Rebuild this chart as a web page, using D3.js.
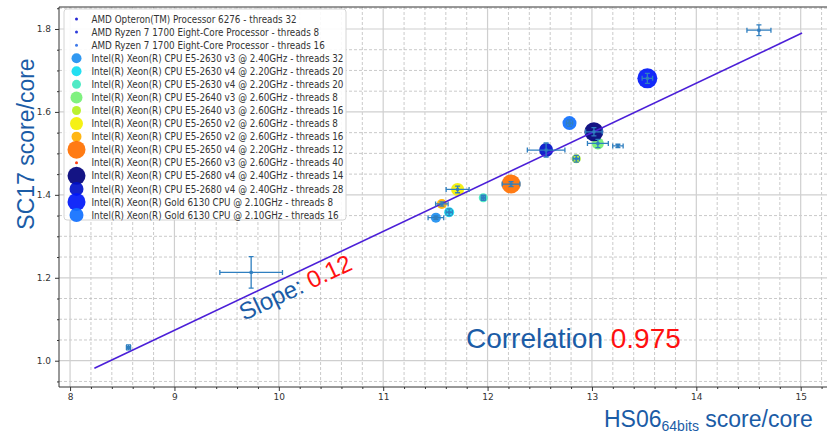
<!DOCTYPE html>
<html>
<head>
<meta charset="utf-8">
<script src="https://cdn.jsdelivr.net/npm/d3@7"></script>
<style>
  body { margin: 0; background: #fff; }
  svg { display: block; }
</style>
</head>
<body>
<svg id="chart" width="827" height="435"></svg>
<script>
// ---- data ----
const processors = [
  'AMD Opteron(TM) Processor 6276',
  'AMD Ryzen 7 1700 Eight-Core Processor',
  'AMD Ryzen 7 1700 Eight-Core Processor',
  'Intel(R) Xeon(R) CPU E5-2630 v3 @ 2.40GHz',
  'Intel(R) Xeon(R) CPU E5-2630 v4 @ 2.20GHz',
  'Intel(R) Xeon(R) CPU E5-2630 v4 @ 2.20GHz',
  'Intel(R) Xeon(R) CPU E5-2640 v3 @ 2.60GHz',
  'Intel(R) Xeon(R) CPU E5-2640 v3 @ 2.60GHz',
  'Intel(R) Xeon(R) CPU E5-2650 v2 @ 2.60GHz',
  'Intel(R) Xeon(R) CPU E5-2650 v2 @ 2.60GHz',
  'Intel(R) Xeon(R) CPU E5-2650 v4 @ 2.20GHz',
  'Intel(R) Xeon(R) CPU E5-2660 v3 @ 2.60GHz',
  'Intel(R) Xeon(R) CPU E5-2680 v4 @ 2.40GHz',
  'Intel(R) Xeon(R) CPU E5-2680 v4 @ 2.40GHz',
  'Intel(R) Xeon(R) Gold 6130 CPU @ 2.10GHz',
  'Intel(R) Xeon(R) Gold 6130 CPU @ 2.10GHz'
];
const threads  = [32, 8, 16, 32, 20, 20, 8, 16, 8, 16, 12, 40, 14, 28, 8, 16];
const hs06     = [8.56, 14.60, 9.735, 11.505, 11.632, 11.959, 13.057, 12.85, 11.713, 11.562, 12.225, 13.249, 13.019, 12.561, 13.531, 12.785];
const sc17     = [1.032, 1.797, 1.213, 1.345, 1.358, 1.393, 1.524, 1.487, 1.413, 1.378, 1.426, 1.518, 1.552, 1.508, 1.681, 1.573];
const hs06Err  = [0.02, 0.115, 0.30, 0.075, 0.03, 0.02, 0.10, 0.03, 0.11, 0.06, 0.085, 0.05, 0.08, 0.18, 0.05, 0.03];
const sc17Err  = [0.006, 0.013, 0.038, 0.004, 0.008, 0.006, 0.01, 0.008, 0.008, 0.005, 0.006, 0.004, 0.01, 0.017, 0.012, 0.008];

const fitSlope = 0.1192, fitIntercept = 0.0006;
const fitRange = [8.233, 15.013];
const slopeLabel = '0.12', correlation = '0.975';

const xTicks = [8, 9, 10, 11, 12, 13, 14, 15];
const yTicks = [1.0, 1.2, 1.4, 1.6, 1.8];

// marker styles (one per processor)
const colors = ['#1515d0', '#1a2ad8', '#2f6fe8', '#1e8ff0', '#10dcf0', '#40e8c0', '#74f074', '#b4f020',
                '#f4f000', '#ffb000', '#ff7000', '#ff3000', '#00007a', '#0010c8', '#0018f8', '#1070ff'];
const markerR = [1.5, 1.5, 1.5, 5, 5, 4.5, 6, 4.5, 6.5, 5, 9.5, 1.5, 9.5, 7, 10, 7];

const rows = processors.map((p, i) => ({
  name: p, threads: threads[i], x: hs06[i], y: sc17[i],
  ex: hs06Err[i], ey: sc17Err[i], color: colors[i], r: markerR[i]
}));

// ---- frame ----
const plot = {left: 59, top: 7, right: 832, bottom: 387};
const svg = d3.select('#chart');

const x = d3.scaleLinear().domain([7.894, 15.3]).range([plot.left, plot.right]);
const y = d3.scaleLinear().domain([0.9366, 1.853]).range([plot.bottom, plot.top]);

const xMinor = d3.range(7.8, 15.4, 0.2).map(v => +v.toFixed(2)).filter(v => v > 7.894 && !xTicks.includes(v));
const yMinor = d3.range(0.95, 1.86, 0.05).map(v => +v.toFixed(2)).filter(v => !yTicks.some(t => Math.abs(t - v) < 1e-6));

const grid = svg.append('g');
grid.selectAll('line.xmin').data(xMinor).join('line')
    .attr('x1', d => x(d)).attr('x2', d => x(d))
    .attr('y1', plot.top).attr('y2', plot.bottom)
    .attr('stroke', '#bdbdbd').attr('stroke-dasharray', '3,2').attr('stroke-width', 0.8);
grid.selectAll('line.ymin').data(yMinor).join('line')
    .attr('y1', d => y(d)).attr('y2', d => y(d))
    .attr('x1', plot.left).attr('x2', plot.right)
    .attr('stroke', '#bdbdbd').attr('stroke-dasharray', '3,2').attr('stroke-width', 0.8);
grid.selectAll('line.xmaj').data(xTicks).join('line')
    .attr('x1', d => x(d)).attr('x2', d => x(d))
    .attr('y1', plot.top).attr('y2', plot.bottom)
    .attr('stroke', '#cfcfcf').attr('stroke-width', 1.2);
grid.selectAll('line.ymaj').data(yTicks).join('line')
    .attr('y1', d => y(d)).attr('y2', d => y(d))
    .attr('x1', plot.left).attr('x2', plot.right)
    .attr('stroke', '#cfcfcf').attr('stroke-width', 1.2);

// axes
const styleAxis = g => {
  g.select('.domain').remove();
  g.selectAll('line').attr('stroke', '#333');
  g.selectAll('text').attr('fill', '#333').attr('font-family', 'DejaVu Sans').attr('font-size', 9);
};
svg.append('g').attr('transform', `translate(0,${plot.bottom})`)
   .call(d3.axisBottom(x).tickValues(xMinor).tickSize(2).tickFormat(''))
   .call(styleAxis);
svg.append('g').attr('transform', `translate(0,${plot.bottom})`)
   .call(d3.axisBottom(x).tickValues(xTicks).tickSize(4).tickPadding(3).tickFormat(d3.format('d')))
   .call(styleAxis);
svg.append('g').attr('transform', `translate(${plot.left},0)`)
   .call(d3.axisLeft(y).tickValues(yMinor).tickSize(2).tickFormat(''))
   .call(styleAxis);
svg.append('g').attr('transform', `translate(${plot.left},0)`)
   .call(d3.axisLeft(y).tickValues(yTicks).tickSize(4).tickPadding(4).tickFormat(d3.format('.1f')))
   .call(styleAxis);

svg.append('path')
   .attr('d', `M${plot.right},${plot.top}H${plot.left}V${plot.bottom}H${plot.right}`)
   .attr('fill', 'none').attr('stroke', '#333').attr('stroke-width', 1);

// ---- markers ----
svg.append('g').selectAll('circle').data(rows).join('circle')
   .attr('cx', d => x(d.x)).attr('cy', d => y(d.y)).attr('r', d => d.r)
   .attr('fill', d => d.color).attr('fill-opacity', 0.92);

// regression line
svg.append('line')
   .attr('x1', x(fitRange[0])).attr('y1', y(fitSlope * fitRange[0] + fitIntercept))
   .attr('x2', x(fitRange[1])).attr('y2', y(fitSlope * fitRange[1] + fitIntercept))
   .attr('stroke', '#4b1fd8').attr('stroke-width', 1.6);

// error bars
const errCol = '#2f7fc0';
const eb = svg.append('g').attr('stroke', errCol).attr('stroke-width', 1.3).attr('fill', 'none');
rows.forEach(d => {
  const cx = x(d.x), cy = y(d.y);
  const x0 = x(d.x - d.ex), x1 = x(d.x + d.ex);
  const y0 = y(d.y - d.ey), y1 = y(d.y + d.ey);
  eb.append('path').attr('d',
    `M${x0},${cy}H${x1}M${x0},${cy - 2.5}V${cy + 2.5}M${x1},${cy - 2.5}V${cy + 2.5}` +
    `M${cx},${y0}V${y1}M${cx - 2.5},${y0}H${cx + 2.5}M${cx - 2.5},${y1}H${cx + 2.5}`);
  eb.append('rect').attr('x', cx - 1.5).attr('y', cy - 1.5).attr('width', 3).attr('height', 3)
    .attr('fill', errCol).attr('stroke', 'none');
});

// ---- legend ----
const legend = svg.append('g');
legend.append('rect').attr('x', 64).attr('y', 9).attr('width', 282).attr('height', 211)
      .attr('rx', 3).attr('fill', '#fff').attr('fill-opacity', 0.9)
      .attr('stroke', '#d4d4d4').attr('stroke-width', 1);
const rowY = i => 19 + i * 13.07;
rows.forEach((d, i) => {
  legend.append('circle').attr('cx', 76.5).attr('cy', rowY(i)).attr('r', Math.min(d.r, 9))
        .attr('fill', d.color).attr('fill-opacity', 0.92);
  legend.append('text')
        .attr('transform', `translate(91.5,${rowY(i)}) scale(0.88,1)`)
        .attr('dy', '0.36em')
        .attr('font-family', 'DejaVu Sans').attr('font-size', 10).attr('fill', '#333')
        .text(`${d.name} - threads ${d.threads}`);
});

// ---- labels ----
const blue = '#1b5ca6', red = '#ff1010';
svg.append('text')
   .attr('transform', 'translate(34,144) rotate(-90)')
   .attr('text-anchor', 'middle')
   .attr('font-family', 'Liberation Sans, Arial, sans-serif').attr('font-size', 23)
   .attr('fill', blue).text('SC17 score/core');

const xl = svg.append('text').attr('x', 604).attr('y', 427)
   .attr('font-family', 'Liberation Sans, Arial, sans-serif').attr('font-size', 23).attr('fill', blue);
xl.append('tspan').text('HS06');
xl.append('tspan').attr('font-size', 14).attr('dy', 4).text('64bits');
xl.append('tspan').attr('dy', -4).text(' score/core');

const sl = svg.append('text')
   .attr('transform', 'translate(244,321) rotate(-25.4)')
   .attr('font-family', 'Liberation Sans, Arial, sans-serif').attr('font-size', 24);
sl.append('tspan').attr('fill', blue).text('Slope: ');
sl.append('tspan').attr('fill', red).text(slopeLabel);

const cl = svg.append('text').attr('x', 466).attr('y', 348)
   .attr('font-family', 'Liberation Sans, Arial, sans-serif').attr('font-size', 28);
cl.append('tspan').attr('fill', blue).text('Correlation ');
cl.append('tspan').attr('fill', red).text(correlation);
</script>
</body>
</html>
